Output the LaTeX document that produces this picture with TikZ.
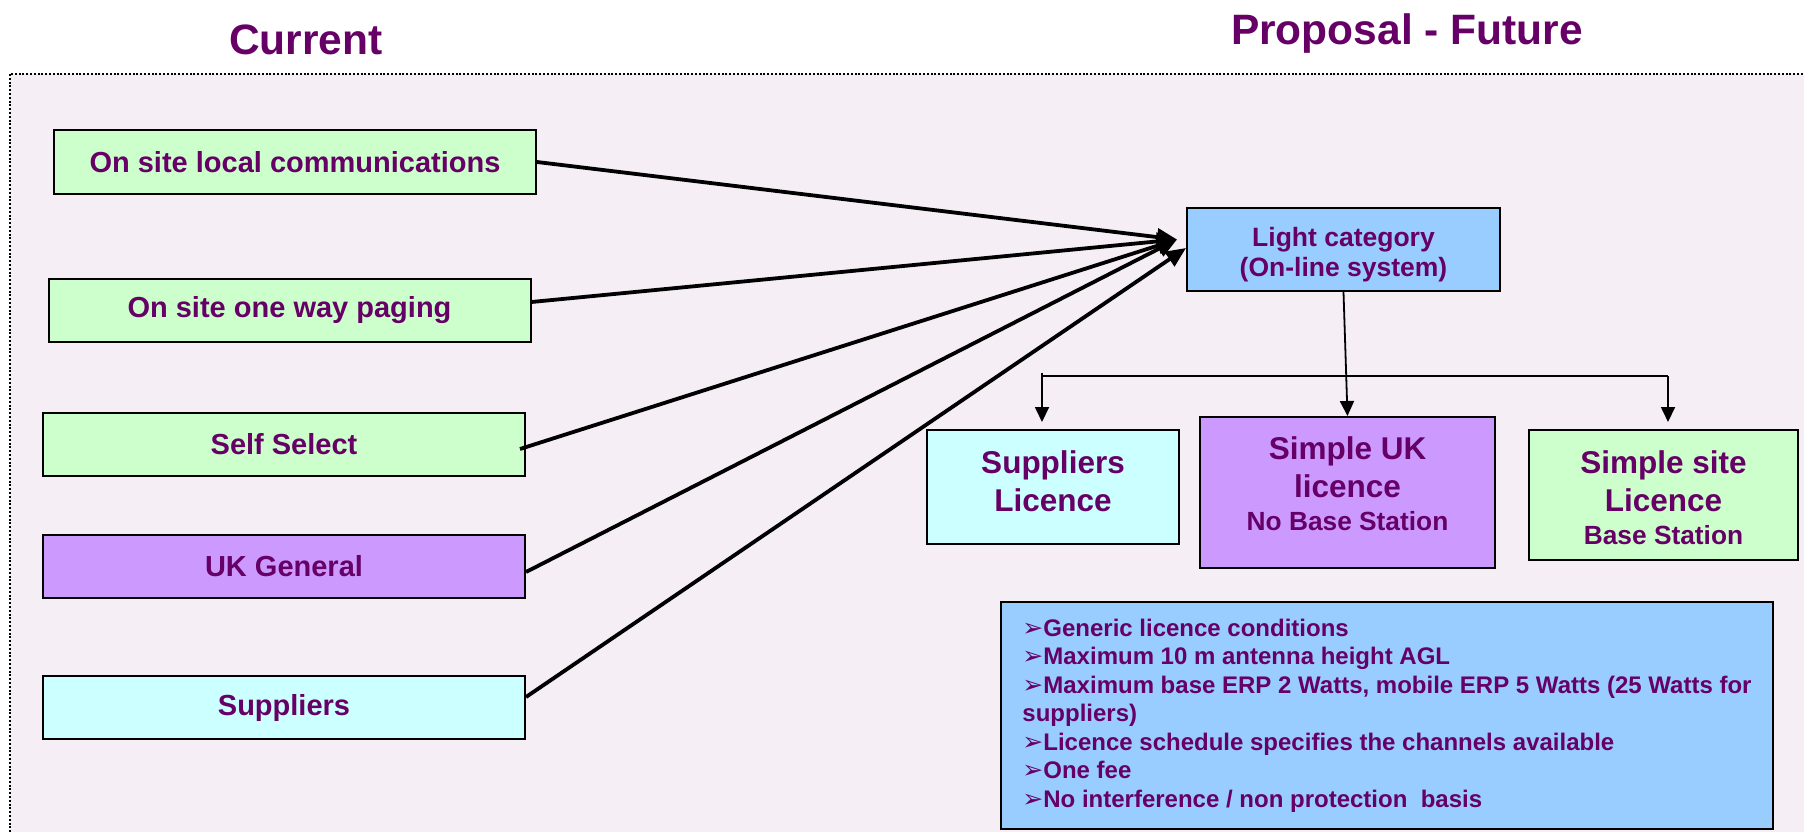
\documentclass[tikz,border=0pt]{standalone}
\usepackage{fontspec}
\setmainfont{Liberation Sans}
\newfontfamily\dejavu{DejaVu Sans}
\usepackage{tikz}
\usetikzlibrary{arrows.meta,positioning,calc}
\definecolor{txtpurple}{HTML}{660066}
\definecolor{boxgreen}{HTML}{CCFFCC}
\definecolor{boxviolet}{HTML}{CC99FF}
\definecolor{boxcyan}{HTML}{CCFFFF}
\definecolor{boxblue}{HTML}{99CCFF}
\definecolor{pagepink}{HTML}{F5EEF5}
\tikzset{>={Triangle[length=15pt,width=14pt]}}
\tikzset{
  oldbox/.style={draw=black, line width=2pt, minimum width=482pt, minimum height=63pt, inner sep=0pt,
    text=txtpurple, font=\fontsize{29}{33}\selectfont\bfseries},
  newbox/.style={draw=black, line width=2pt, inner sep=0pt, align=center, text=txtpurple,
    font=\fontsize{31.5}{38.5}\selectfont\bfseries},
  heading/.style={text=txtpurple, anchor=base, font=\fontsize{42.5}{50}\selectfont\bfseries},
  feed/.style={line width=3.8pt, -{Triangle[length=20pt,width=17pt]}},
  branch/.style={line width=1.8pt},
}
\newcommand{\subline}[1]{{\fontsize{26.3}{33}\selectfont #1}}
\newcommand{\padbelow}[1]{\rule[-#1]{0pt}{0pt}}
\newcommand{\notemark}{{\dejavu\fontsize{25}{28.5}\selectfont ➢}}

\begin{document}
\begin{tikzpicture}[x=1pt,y=-1pt]
\useasboundingbox (0,0) rectangle (1804,832);
% dotted frame
\draw[fill=pagepink, line width=2pt, dash pattern=on 2pt off 1.8pt] (10,74) rectangle (1810,850);
\node[heading] (cur) at (306,55) {Current};
\node[heading] (fut) at (1407,45) {Proposal - Future};

% current categories
\node[oldbox, fill=boxgreen] (local) at (295,162) {On site local communications};
\node[oldbox, fill=boxgreen] (paging) at (289.5,310.5) {On site one way paging};
\node[oldbox, fill=boxgreen] (self) at (284,444.5) {Self Select};
\node[oldbox, fill=boxviolet] (ukgen) at (284,566.5) {UK General};
\node[oldbox, fill=boxcyan] (supp) at (284,707.5) {Suppliers};

% proposal
\node[newbox, fill=boxblue, minimum width=313pt, minimum height=83pt,
  font=\fontsize{26.5}{30}\selectfont\bfseries] (light) at (1343.5,249.5)
  {\rule{0pt}{29.5pt}Light category\\(On-line system)};
\node[newbox, fill=boxcyan, minimum width=252pt, minimum height=114pt] (suplic) at (1053,487)
  {Suppliers\\Licence\padbelow{12pt}};
\node[newbox, fill=boxviolet, minimum width=295pt, minimum height=151pt] (simpleuk) at (1347.5,492.5)
  {Simple UK\\licence\\[-5.5pt]\subline{No Base Station}\padbelow{18pt}};
\node[newbox, fill=boxgreen, minimum width=269pt, minimum height=130pt] (simplesite) at (1663.5,495)
  {\rule{0pt}{28pt}Simple site\\Licence\\[-5.5pt]\subline{Base Station}};

\node[draw=black, line width=2pt, fill=boxblue, minimum width=772pt, minimum height=227pt,
  inner xsep=21pt, align=left, text=txtpurple, font=\fontsize{24}{28.5}\selectfont\bfseries] (notes) at (1387,715.5)
  {\notemark Generic licence conditions\\
   \notemark Maximum 10 m antenna height AGL\\
   \notemark Maximum base ERP 2 Watts, mobile ERP 5 Watts (25 Watts for\\
   suppliers)\\
   \notemark Licence schedule specifies the channels available\\
   \notemark One fee\\
   \notemark No interference / non protection~ basis};

% feeds into the light category
\coordinate (hub) at ([xshift=-9pt,yshift=10pt]light.west);
\draw[feed] (local.east) -- (hub);
\draw[feed] ([yshift=8.5pt]paging.east) -- (hub);
\draw[feed] ([xshift=-6pt,yshift=-4.5pt]self.east) -- (hub);
\draw[feed] ([yshift=-5.5pt]ukgen.east) -- (hub);
\draw[feed] ([yshift=10.5pt]supp.east) -- ([yshift=1.5pt]light.west);

% licence tree
\coordinate (splitl) at (1042,376);
\coordinate (splitr) at (1668,376);
\draw[branch] (splitl) -- (splitr);
\draw[branch, ->] (light.south) -- (simpleuk.north);
\draw[branch, ->, shorten >=7pt] ([yshift=3pt]splitl) -- (splitl |- suplic.north);
\draw[branch, ->, shorten >=7pt] (splitr) -- (splitr |- simplesite.north);
\end{tikzpicture}
\end{document}
